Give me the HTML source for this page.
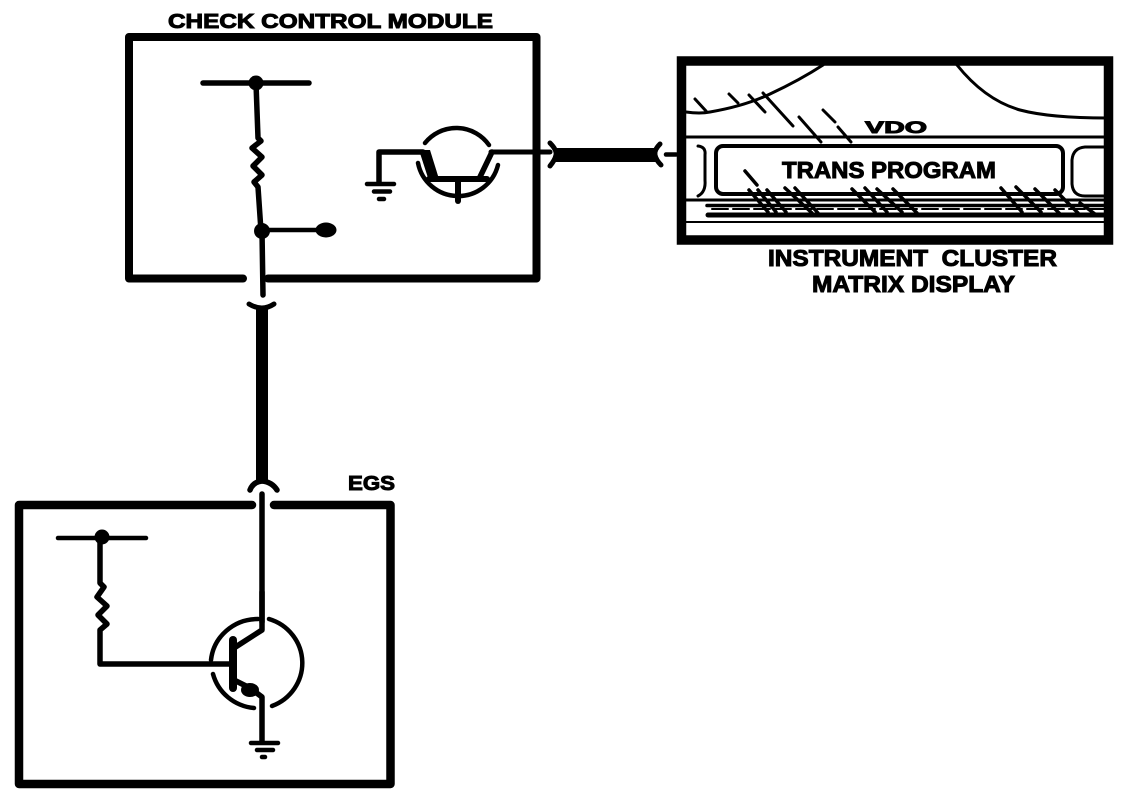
<!DOCTYPE html>
<html>
<head>
<meta charset="utf-8">
<style>
html,body{margin:0;padding:0;background:#fff;}
svg{display:block;}
text{font-family:"Liberation Sans",Arial,sans-serif;font-weight:bold;fill:#000;stroke:#000;stroke-width:1;}
</style>
</head>
<body>
<svg width="1136" height="808" viewBox="0 0 1136 808" xmlns="http://www.w3.org/2000/svg">
<g fill="none" stroke="#000" stroke-linecap="round" stroke-linejoin="round">
  <!-- Check control module box -->
  <path d="M243 278.500H129V37H536.500V278.500H268" stroke-width="8"/>
  <!-- EGS box -->
  <path d="M252 505H19V784H390.500V505H274" stroke-width="8.500"/>

  <!-- CCM bus, resistor -->
  <path d="M203 83H309" stroke-width="5.500"/>
  <path d="M256 83L258 138L261 141L252 148L262 157L253 166L262 175L254 182L258 187L261 231" stroke-width="5.500"/>
  <path d="M262 231L263 295" stroke-width="5.500"/>
  <path d="M262 230H322" stroke-width="4.500"/>
  <!-- Connector vertical -->
  <path d="M249 304Q262 312 274 304" stroke-width="5"/>
  <path d="M262 309V480" stroke-width="12" stroke-linecap="butt"/>
  <path d="M250 490Q253 482 262 481Q272 482 277 490" stroke-width="5.500"/>
  <path d="M262 494L262 622" stroke-width="5.500"/>

  <!-- CCM transistor -->
  <path d="M425 143A40 40 0 0 1 489 145" stroke-width="4.500"/>
  <path d="M418 163A41 41 0 0 0 498 165" stroke-width="4.500"/>
  <path d="M429 179H487" stroke-width="6"/>
  <path d="M458 180V201" stroke-width="6"/>
  <path d="M379 183V152H423" stroke-width="5.500"/>
  <path d="M492 152L479 179" stroke-width="5.500"/>
  <path d="M491 152H550" stroke-width="5"/>
  <path d="M367 184H394M374 191.500H390M379 199H384" stroke-width="4.500"/>
  <!-- Horizontal connector -->
  <path d="M550 143Q557 150 556 155Q555 160 550 166" stroke-width="5"/>
  <path d="M555 155H656" stroke-width="14" stroke-linecap="butt"/>
  <path d="M660 144Q654 150 655 155Q656 160 661 165" stroke-width="5"/>
  <path d="M666 154.500H676" stroke-width="4.500"/>

  <!-- EGS circuit -->
  <path d="M58 538H146" stroke-width="4.500"/>
  <path d="M100 538V583L104 587L97 597L107 606L98 615L107 624L100 630V664H232" stroke-width="5.500"/>
  <path d="M211 660A47 46 0 0 1 258 619" stroke-width="4.500"/>
  <path d="M269 619A47 46 0 0 1 272 706" stroke-width="4.500"/>
  <path d="M254 708A47 46 0 0 1 213 674" stroke-width="4.500"/>
  <path d="M233 640V688" stroke-width="8"/>
  <path d="M234 648L262 630V592" stroke-width="5.500"/>
  <path d="M234 680L250 688L262 697V741" stroke-width="5.500"/>
  <path d="M251 743H278M257 750H273" stroke-width="4.500"/>
  <path d="M262 757H265" stroke-width="4.500"/>

  <!-- Cluster -->
  <rect x="681.500" y="61" width="427" height="179" stroke-width="9.500" stroke-linejoin="miter"/>
  <path d="M686 112Q700 114 710 112Q745 106 770 94Q800 80 823 65" stroke-width="3"/>
  <path d="M957 65Q985 100 1020 110Q1050 118 1107 118" stroke-width="3"/>
  <g stroke-width="3">
    <path d="M695 99L706 111M729 94L738 103M749 95L765 112M763 93L793 126M799 117L821 142M823 110L835 122M838 127L851 142"/>
  </g>
  <path d="M686 137H1107" stroke-width="3"/>
  <rect x="716" y="146" width="347" height="48" rx="7" stroke-width="4"/>
  <path d="M698 146Q706 147 705 155V180Q706 192 698 196" stroke-width="3"/>
  <path d="M1107 147H1085Q1073 148 1072 160V184Q1073 196 1085 196H1107" stroke-width="3"/>
  <path d="M686 200H1107" stroke-width="3"/>
  <path d="M707 205.500H1107" stroke-width="3.500"/>
  <path d="M708 215H1107" stroke-width="5"/>
  <path d="M686 222H1107" stroke-width="2"/>
  <g stroke-width="3.500">
    <path d="M745 171L757 185M749 190L768 212M758 190L776 212M767 190L786 212M785 188L812 213M795 188L818 213M852 189L875 212M865 188L887 212M877 189L902 212M893 189L917 213M1001 188L1022 212M1016 187L1041 212M1035 189L1060 214M1055 190L1078 213M1080 203L1095 214"/>
  </g>
  <path d="M712 209H1105" stroke-width="2" stroke-dasharray="16 5"/>
</g>
<ellipse cx="326" cy="230" rx="10.500" ry="7.500"/>
<circle cx="256" cy="83" r="7.500"/>
<circle cx="262" cy="231" r="8"/>
<circle cx="102" cy="537" r="7.500"/>
<path d="M419 150L430 150L439 179L429 181Z"/>
<ellipse cx="250" cy="690" rx="9" ry="7"/>

<text x="168" y="28" font-size="20.500" textLength="325" lengthAdjust="spacingAndGlyphs">CHECK CONTROL MODULE</text>
<text x="782" y="178" font-size="23" textLength="214" lengthAdjust="spacingAndGlyphs">TRANS PROGRAM</text>
<text x="865" y="133" font-size="17" textLength="62" lengthAdjust="spacingAndGlyphs">VDO</text>
<text x="768" y="266" font-size="23" textLength="289" lengthAdjust="spacingAndGlyphs" xml:space="preserve">INSTRUMENT  CLUSTER</text>
<text x="812" y="292" font-size="23" textLength="203" lengthAdjust="spacingAndGlyphs">MATRIX DISPLAY</text>
<text x="348" y="490" font-size="20.500" textLength="47" lengthAdjust="spacingAndGlyphs">EGS</text>
</svg>
</body>
</html>
